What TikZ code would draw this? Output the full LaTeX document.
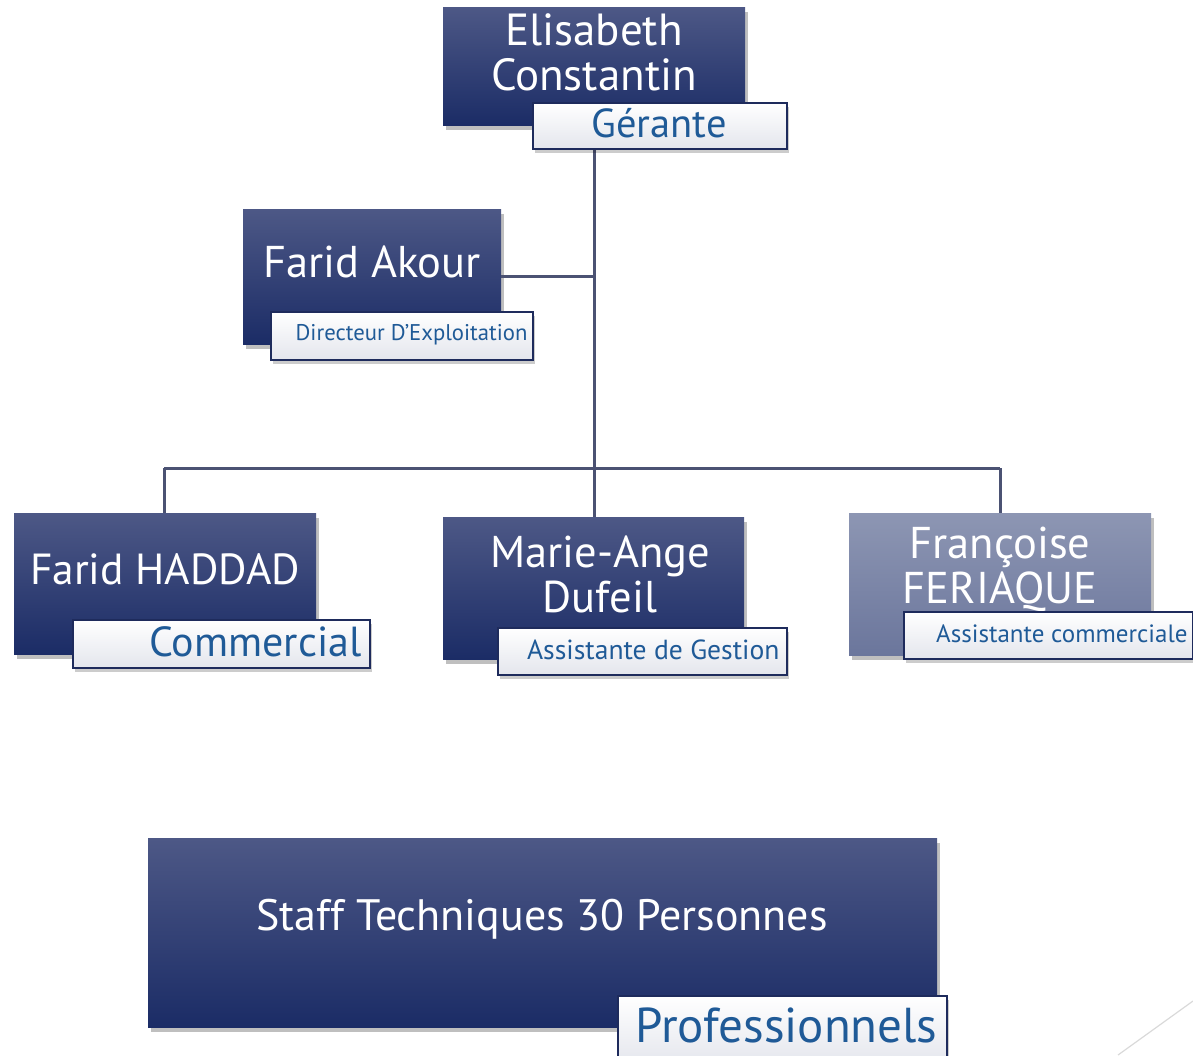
\documentclass[tikz,border=0pt]{standalone}
\usepackage{fontspec}
\setmainfont{PT Sans}
\usetikzlibrary{shadows}
\definecolor{navyT}{HTML}{4D5886}
\definecolor{navyB}{HTML}{1B2C66}
\definecolor{lightT}{HTML}{8D96B3}
\definecolor{lightB}{HTML}{6B769C}
\definecolor{lblborder}{HTML}{1E2B5C}
\definecolor{lbltext}{HTML}{1F5A97}
\definecolor{conn}{HTML}{4B5273}
\tikzset{
  mainbox/.style={rectangle, inner sep=0pt, top color=navyT, bottom color=navyB, text=white,
    drop shadow={shadow xshift=3pt, shadow yshift=-5pt, fill=black, opacity=0.25}},
  lightbox/.style={mainbox, top color=lightT, bottom color=lightB},
  lblbox/.style={rectangle, inner sep=0pt, draw=lblborder, line width=2pt, top color=white, bottom color=white!88!navyB, text=lbltext,
    drop shadow={shadow xshift=2pt, shadow yshift=-4pt, fill=black, opacity=0.2}},
  connector/.style={draw=conn, line width=3pt}
}
\begin{document}
\begin{tikzpicture}[x=1pt,y=-1pt]
\useasboundingbox (0,0) rectangle (1193,1055);
% Elisabeth
\node[mainbox, minimum width=302pt, minimum height=118pt, anchor=north west] (eb) at (443,7) {};
\node[text=white, font=\fontsize{45}{45}\selectfont, align=center] (ebt) at (594,52) {Elisabeth\\Constantin};
% Farid Akour
\node[mainbox, minimum width=258pt, minimum height=135pt, anchor=north west] (fa) at (243,209) {};
\node[text=white, font=\fontsize{44.5}{44}\selectfont] (fat) at (372,262) {Farid Akour};
% Farid HADDAD
\node[mainbox, minimum width=302pt, minimum height=141pt, anchor=north west] (fh) at (14,513) {};
\node[text=white, font=\fontsize{43.5}{44}\selectfont] (fht) at (165,569) {Farid HADDAD};
% Marie-Ange
\node[mainbox, minimum width=301pt, minimum height=142pt, anchor=north west] (ma) at (443,517) {};
\node[text=white, font=\fontsize{44.5}{45}\selectfont, align=center] (mat) at (600,574) {Marie-Ange\\Dufeil};
% Francoise
\node[lightbox, minimum width=302pt, minimum height=142pt, anchor=north west] (ff) at (849,513) {};
\node[text=white, font=\fontsize{44.5}{45}\selectfont, align=center] (fft) at (1000,569) {Françoise\\FERIAQUE};
% Staff
\node[mainbox, minimum width=789pt, minimum height=189pt, anchor=north west] (st) at (148,838) {};
\node[text=white, font=\fontsize{44}{44}\selectfont] (stt) at (542,919) {Staff Techniques 30 Personnes};

% connectors
\coordinate (hl) at (164,468);
\coordinate (hr) at (1000,468);
\coordinate (hm) at (594,468);
\coordinate (fj) at (594,276);
\draw[connector] (594,148) -- (ma.north -| 594,0);
\draw[connector] (fa.east |- fj) -- (fj);
\draw[connector] (hl) -- (hr);
\draw[connector] (hl) -- (hl |- fh.north);
\draw[connector] (hr) -- (hr |- ff.north);

% labels
\node[lblbox, minimum width=254pt, minimum height=46pt, anchor=north west] (gl) at (532,102) {};
\node[text=lbltext, font=\fontsize{40.5}{40}\selectfont] (glt) at (659,123) {Gérante};
\node[lblbox, minimum width=262pt, minimum height=48pt, anchor=north west] (fal) at (270,311) {};
\node[text=lbltext, font=\fontsize{22.7}{24}\selectfont, anchor=east] (falt) at (531,335) {Directeur D’Exploitation};
\node[lblbox, minimum width=297pt, minimum height=48pt, anchor=north west] (fhl) at (72,619) {};
\node[text=lbltext, font=\fontsize{42}{42}\selectfont, anchor=east] (fhlt) at (365,642) {Commercial};
\node[lblbox, minimum width=289pt, minimum height=47pt, anchor=north west] (mal) at (497,627) {};
\node[text=lbltext, font=\fontsize{27.6}{28}\selectfont, anchor=east] (malt) at (783,650) {Assistante de Gestion};
\node[lblbox, minimum width=289pt, minimum height=47pt, anchor=north west] (ffl) at (903,611) {};
\node[text=lbltext, font=\fontsize{25}{26}\selectfont, anchor=east] (fflt) at (1191,634) {Assistante commerciale};
\node[lblbox, minimum width=329pt, minimum height=70pt, anchor=north west] (stl) at (617,995) {};
\node[text=lbltext, font=\fontsize{49}{50}\selectfont, anchor=east] (stlt) at (941,1025) {Professionnels};

% decorative line
\draw[black!15, line width=1.2pt] (1118,1055) -- (1193,1001);
\end{tikzpicture}
\end{document}
